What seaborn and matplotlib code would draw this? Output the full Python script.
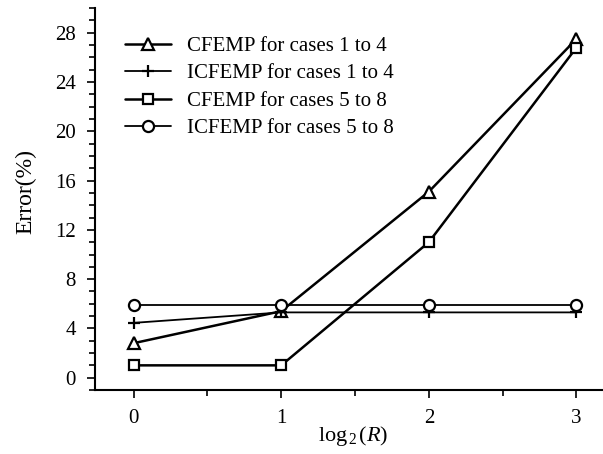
import matplotlib
matplotlib.use("Agg")
import matplotlib.pyplot as plt
from matplotlib.ticker import MultipleLocator
import seaborn as sns
import pandas as pd

sns.set_theme(style="ticks")
plt.rcParams["font.family"] = ["Liberation Serif", "DejaVu Serif"]
plt.rcParams["mathtext.fontset"] = "custom"
plt.rcParams["mathtext.rm"] = "Liberation Serif"
plt.rcParams["mathtext.it"] = "Liberation Serif:italic"

log2_r = [0, 1, 2, 3]
cfemp_1_4 = [2.8, 5.4, 15.1, 27.5]
icfemp_1_4 = [4.45, 5.3, 5.3, 5.3]
cfemp_5_8 = [1.0, 1.0, 11.0, 26.8]
icfemp_5_8 = [5.9, 5.9, 5.9, 5.9]

labels = ["CFEMP for cases 1 to 4", "ICFEMP for cases 1 to 4",
          "CFEMP for cases 5 to 8", "ICFEMP for cases 5 to 8"]
series = [cfemp_1_4, icfemp_1_4, cfemp_5_8, icfemp_5_8]
markers = ["^", "+", "s", "o"]
widths = [1.8, 1.3, 1.8, 1.3]
msizes = [8, 9, 7, 8]

fig = plt.figure(figsize=(6.03, 4.54), dpi=100)
ax = fig.add_axes([0.158, 0.141, 0.842, 0.841])

for lab, vals, m, lw, ms in zip(labels, series, markers, widths, msizes):
    df = pd.DataFrame({"x": log2_r, "y": vals})
    sns.lineplot(data=df, x="x", y="y", ax=ax, color="black", linewidth=lw,
                 marker=m, markersize=ms, markerfacecolor="white",
                 markeredgecolor="black", markeredgewidth=1.6, label=lab)

ax.set_xlim(-0.26, 3.18)
ax.set_ylim(-1, 30)
ax.xaxis.set_major_locator(MultipleLocator(1))
ax.xaxis.set_minor_locator(MultipleLocator(0.5))
ax.yaxis.set_major_locator(MultipleLocator(4))
ax.yaxis.set_minor_locator(MultipleLocator(1))
ax.tick_params(axis="both", which="major", length=6, width=1.2, color="black",
               labelsize=15, direction="out", pad=8, labelcolor="black")
ax.tick_params(axis="both", which="minor", length=4, width=1.2, color="black",
               direction="out")
for s in ["top", "right"]:
    ax.spines[s].set_visible(False)
for s in ["left", "bottom"]:
    ax.spines[s].set_color("black")
    ax.spines[s].set_linewidth(1.5)

ax.set_xlabel(r"log$_{\,2\,}$($\it{R}$)", fontsize=16, color="black")
ax.xaxis.set_label_coords(0.508, -0.09)
ax.set_ylabel("Error(%)", fontsize=17, color="black")
ax.yaxis.set_label_coords(-0.115, 0.52)

leg = ax.legend(loc="upper left", bbox_to_anchor=(0.042, 0.948), frameon=False,
                fontsize=15, handlelength=2.2, handletextpad=0.8,
                labelspacing=0.38, borderaxespad=0)
for t in leg.get_texts():
    t.set_color("black")

fig.savefig("out.png", dpi=100)
